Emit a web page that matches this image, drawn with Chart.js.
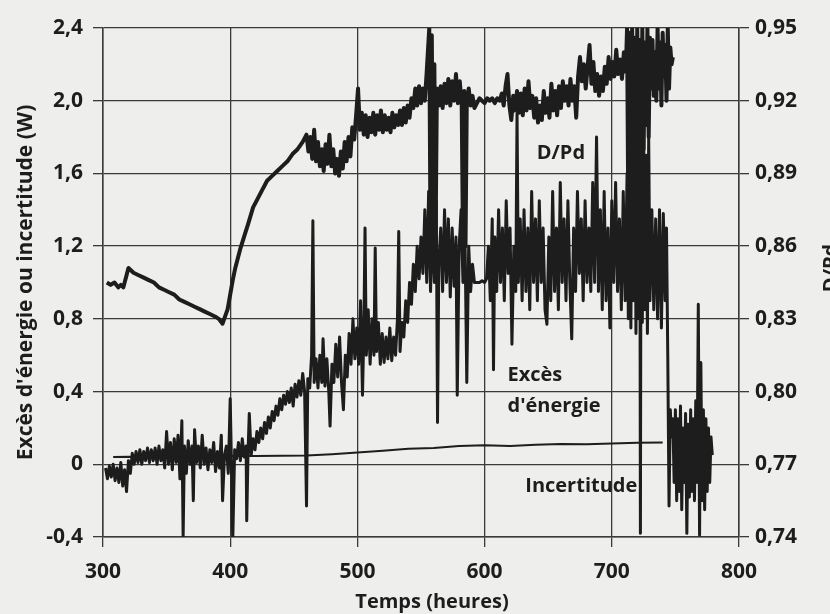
<!DOCTYPE html>
<html lang="fr">
<head>
<meta charset="utf-8">
<title>Excès d'énergie et D/Pd</title>
<script src="https://cdn.jsdelivr.net/npm/chart.js@4.4.1/dist/chart.umd.min.js"></script>
<style>
  html, body { margin: 0; padding: 0; background: #eeeeec; }
  #wrap { width: 830px; height: 614px; }
</style>
</head>
<body>
<div id="wrap"><canvas id="chart" width="830" height="614"></canvas></div>
<script>
// Axis ticks
const hourTicks = [300, 400, 500, 600, 700, 800];
const energyTicks = [-0.4, 0, 0.4, 0.8, 1.2, 1.6, 2.0, 2.4];
const ratioTicks = [0.74, 0.77, 0.80, 0.83, 0.86, 0.89, 0.92, 0.95];

// Excès d'énergie (W)
const excessHours = [
  302, 303.5, 305, 306.5, 308, 309.5, 311, 312.5, 314, 315.5,
  317, 318.5, 320, 321.5, 323, 324.5, 326, 327.5, 329, 330.5,
  332, 333.5, 335, 336.5, 338, 339.5, 341, 342.5, 344, 345.5,
  347, 348.5, 350, 351.5, 353, 354.5, 356, 357.5, 359, 360.5,
  362, 363, 364, 365.5, 367, 368.5, 370, 371, 372, 373.5,
  375, 376.5, 378, 379.5, 381, 382.5, 384, 385.5, 387, 388.5,
  390, 391.5, 393, 394, 395.5, 397, 398.5, 400, 401, 402,
  403.5, 405, 406.5, 408, 409.5, 411, 412.5, 413, 414, 415,
  416.5, 418, 419.5, 421, 422.5, 424, 425.5, 427, 428.5, 430,
  431.5, 433, 434.5, 436, 437.5, 439, 440.5, 442, 443.5, 445,
  446.5, 448, 449.5, 451, 452.5, 454, 455.5, 457, 458.5, 460,
  461, 462.5, 464, 465, 466, 467.5, 469, 470.5, 472, 473,
  474.5, 476, 477.5, 478.5, 480, 481.5, 483, 484.5, 486, 487.5,
  489, 490.5, 492, 493.5, 495, 496.5, 498, 499.5, 501, 502.5,
  504, 505, 506, 507, 508.5, 510, 511.5, 513, 514, 515,
  516.5, 518, 519.5, 521, 522.5, 524, 525.5, 527, 528.5, 530,
  531.5, 532.5, 533.5, 535, 536.5, 538, 539.5, 541, 542.5, 544,
  545.5, 547, 548.5, 550, 551.5, 553, 554.5, 556, 557.5, 559,
  560.5, 562, 563, 564, 565.5, 567, 568.5, 570, 571.5, 573,
  574.5, 576, 577.5, 578.5, 580, 581.5, 583, 584.5, 586, 587.5,
  589, 590.5, 592, 594, 596, 598, 600, 601.5, 603, 604.5,
  606, 607, 608, 609.5, 611, 612.5, 614, 615.5, 617, 618.5,
  620, 621.5, 623, 624.5, 625.5, 626.5, 628, 629.5, 631, 632.5,
  634, 635.5, 637, 638.5, 640, 641.5, 643, 644.5, 646, 647.5,
  649, 650.5, 652, 653.5, 655, 656.5, 658, 659.5, 661, 662.5,
  664, 665.5, 667, 668.5, 670, 671.5, 673, 674.5, 676, 677.5,
  679, 680.5, 682, 683.5, 685, 686.5, 688, 689.5, 691, 692.5,
  694, 695.5, 697, 698.5, 700, 701.5, 703, 704.5, 706, 707.5,
  709, 710.5, 712, 713, 714, 715, 716, 717, 718, 719,
  720, 721, 722, 722.5, 723, 724, 725, 726, 727, 728,
  729, 730, 731.5, 733, 734.5, 736, 737.5, 739, 740.5, 742,
  743, 744, 745, 746, 747, 748, 749, 750, 751, 752,
  753, 754, 755, 756, 757, 758, 759, 760, 761, 762,
  763, 764, 765, 766, 767, 768, 769, 770, 771, 772,
  773, 774, 775, 776, 777, 778, 779
];
const excessValues = [
  -0.02, -0.08, -0.01, -0.07, 0.0, -0.09, -0.02, -0.1, 0.01, -0.12,
  -0.03, -0.15, 0.02, -0.05, 0.06, 0.0, 0.07, 0.01, 0.08, 0.0,
  0.07, 0.02, 0.09, 0.01, 0.08, 0.02, 0.09, 0.0, 0.1, 0.02,
  0.08, -0.02, 0.18, 0.0, 0.12, -0.03, 0.14, 0.01, 0.16, -0.08,
  0.24, -0.4, 0.1, -0.05, 0.13, 0.0, 0.1, -0.2, 0.19, 0.01,
  0.1, -0.02, 0.16, 0.0, 0.09, -0.03, 0.08, 0.01, 0.12, -0.04,
  0.07, -0.02, 0.16, -0.2, 0.05, 0.1, -0.05, 0.36, 0.0, -0.42,
  0.08, 0.03, 0.12, 0.02, 0.14, 0.04, 0.1, -0.31, 0.06, 0.28,
  0.05, 0.14, 0.08, 0.18, 0.12, 0.2, 0.14, 0.23, 0.17, 0.26,
  0.2, 0.29, 0.24, 0.32, 0.27, 0.36, 0.3, 0.38, 0.33, 0.4,
  0.34, 0.42, 0.32, 0.44, 0.37, 0.46, 0.38, 0.5, 0.4, -0.23,
  0.47, 0.42, 0.6, 1.34, 0.45, 0.58, 0.42, 0.6, 0.45, 0.69,
  0.43, 0.58, 0.4, 0.21, 0.55, 0.45, 0.66, 0.48, 0.7, 0.45,
  0.3, 0.6, 0.48, 0.72, 0.55, 0.8, 0.58, 0.75, 0.55, 0.9,
  0.38, 0.7, 1.3, 0.6, 0.85, 0.55, 0.8, 0.6, 1.19, 0.62,
  0.78, 0.55, 0.72, 0.56, 0.7, 0.58, 0.75, 0.57, 0.7, 0.6,
  0.8, 1.28, 0.62, 0.78, 0.7, 0.9, 0.78, 1.0, 0.88, 1.1,
  0.95, 1.2, 1.02, 1.25, 1.05, 1.4, 1.0, 1.5, 0.95, 1.35,
  1.0, 1.45, 0.23, 1.1, 1.3, 0.95, 1.4, 1.0, 1.35, 0.92,
  1.3, 0.98, 1.25, 0.38, 1.2, 1.4, 1.0, 1.3, 0.45, 1.2,
  0.95, 1.1, 1.0, 1.0, 1.0, 1.01, 1.0, 1.02, 1.2, 0.9,
  1.35, 0.52, 1.25, 0.95, 1.4, 1.0, 1.3, 0.9, 1.45, 1.05,
  1.3, 0.66, 1.2, 0.95, 1.93, 1.0, 1.35, 0.9, 1.4, 0.95,
  1.3, 0.85, 1.5, 1.0, 1.35, 0.9, 1.45, 1.0, 1.3, 0.85,
  0.77, 1.25, 0.9, 1.5, 0.95, 1.3, 0.85, 1.55, 1.0, 1.35,
  0.9, 1.45, 1.0, 0.69, 1.3, 0.95, 1.5, 1.05, 1.35, 0.9,
  1.45, 1.0, 1.3, 0.95, 1.55, 1.0, 1.8, 0.95, 1.4, 0.85,
  1.5, 0.9, 1.3, 0.75, 1.45, 1.0, 1.55, 0.95, 1.35, 0.85,
  1.5, 0.9, 1.6, 0.8, 1.95, 0.75, 1.9, 0.9, 1.95, 0.72,
  1.85, 0.8, 1.9, -0.38, 1.8, 0.78, 1.9, 0.85, 1.7, 0.72,
  1.8, 0.9, 1.4, 0.85, 1.35, 0.8, 1.4, 0.75, 1.38, 0.9,
  1.3, 0.6, -0.23, 0.3, 0.15, 0.25, -0.1, 0.3, -0.2, 0.25,
  -0.15, 0.32, -0.25, 0.2, -0.1, 0.28, -0.38, 0.22, -0.18, 0.3,
  -0.15, 0.25, -0.2, 0.35, -0.1, 0.88, -0.39, 0.56, -0.2, 0.3,
  -0.25, 0.25, -0.15, 0.2, -0.1, 0.15, 0.05
];

// D/Pd (right axis)
const ratioHours = [
  303, 306, 309, 312, 314, 316, 318, 320, 324, 328,
  332, 336, 340, 344, 348, 352, 356, 360, 364, 368,
  372, 376, 380, 384, 388, 391, 394, 396, 398, 400,
  402, 404, 406, 408, 411, 414, 418, 421, 425, 429,
  433, 437, 441, 445, 449, 453, 457, 460, 461.5, 463,
  464.5, 466, 467.5, 469, 470.5, 472, 473.5, 475, 476.5, 478,
  479.5, 481, 482.5, 484, 485.5, 487, 488.5, 490, 491.5, 493,
  494.5, 496, 497.5, 499, 500.5, 502, 503.5, 505, 506.5, 508,
  509.5, 511, 512.5, 514, 515.5, 517, 518.5, 520, 521.5, 523,
  524.5, 526, 527.5, 529, 530.5, 532, 533.5, 535, 536.5, 538,
  539.5, 541, 542.5, 544, 545.5, 547, 548.5, 550, 551.5, 553,
  554.5, 556.5, 557.5, 558.5, 559.5, 560.5, 561.5, 562.5, 564, 565.5,
  567, 568.5, 570, 571.5, 573, 574.5, 576, 577.5, 579, 580.5,
  582, 583, 584, 585, 586, 587.5, 589, 590.5, 592, 594,
  596, 598, 600, 602, 604, 606, 608, 610, 612, 613.5,
  615, 616.5, 618, 619.5, 621, 622.5, 624, 625.5, 627, 628.5,
  630, 631.5, 633, 634.5, 636, 637.5, 639, 640.5, 642, 643.5,
  645, 646.5, 648, 649.5, 651, 652.5, 654, 655.5, 657, 658.5,
  660, 661.5, 663, 664.5, 666, 667.5, 669, 670.5, 672, 673.5,
  675, 676.5, 678, 679.5, 681, 682.5, 684, 685.5, 687, 688.5,
  690, 691.5, 693, 694.5, 696, 697.5, 699, 700.5, 702, 703.5,
  705, 706.5, 708, 709.5, 711, 712, 713, 714, 715, 716,
  717, 718, 719, 720, 721, 722, 723, 724, 725, 726,
  727, 728, 729, 730, 731, 732, 733, 734, 735, 736,
  737, 738, 739, 740, 741, 742, 743, 744, 745, 746,
  747, 748
];
const ratioValues = [
  0.845, 0.844, 0.845, 0.843, 0.844, 0.843, 0.847, 0.851, 0.849, 0.848,
  0.847, 0.846, 0.845, 0.843, 0.842, 0.841, 0.840, 0.838, 0.837, 0.836,
  0.835, 0.834, 0.833, 0.832, 0.831, 0.830, 0.828, 0.831, 0.834, 0.840,
  0.846, 0.851, 0.855, 0.859, 0.864, 0.869, 0.876, 0.879, 0.883, 0.887,
  0.889, 0.891, 0.893, 0.895, 0.898, 0.900, 0.903, 0.906, 0.899, 0.905,
  0.896, 0.908, 0.895, 0.903, 0.893, 0.900, 0.891, 0.902, 0.894, 0.906,
  0.893, 0.900, 0.890, 0.896, 0.889, 0.899, 0.892, 0.903, 0.895, 0.905,
  0.897, 0.909, 0.904, 0.914, 0.925, 0.908, 0.915, 0.906, 0.914, 0.905,
  0.913, 0.907, 0.915, 0.906, 0.914, 0.908, 0.916, 0.907, 0.914, 0.908,
  0.913, 0.907, 0.915, 0.909, 0.914, 0.910, 0.916, 0.910, 0.917, 0.911,
  0.918, 0.913, 0.921, 0.917, 0.925, 0.918, 0.926, 0.919, 0.925, 0.920,
  0.932, 0.950, 0.862, 0.947, 0.860, 0.935, 0.865, 0.925, 0.918, 0.926,
  0.917, 0.927, 0.919, 0.929, 0.918, 0.928, 0.920, 0.931, 0.919, 0.928,
  0.918, 0.862, 0.924, 0.860, 0.920, 0.925, 0.918, 0.922, 0.917, 0.919,
  0.921, 0.920, 0.919, 0.921, 0.920, 0.921, 0.919, 0.921, 0.920, 0.923,
  0.918, 0.926, 0.931, 0.918, 0.912, 0.922, 0.916, 0.924, 0.915, 0.923,
  0.914, 0.925, 0.916, 0.928, 0.917, 0.922, 0.913, 0.921, 0.911, 0.918,
  0.912, 0.924, 0.915, 0.921, 0.913, 0.927, 0.916, 0.924, 0.914, 0.926,
  0.917, 0.928, 0.920, 0.926, 0.918, 0.929, 0.920, 0.926, 0.913, 0.930,
  0.938, 0.928, 0.935, 0.925, 0.934, 0.943, 0.927, 0.936, 0.924, 0.931,
  0.922, 0.930, 0.924, 0.934, 0.927, 0.938, 0.929, 0.936, 0.930, 0.941,
  0.931, 0.937, 0.929, 0.940, 0.932, 0.950, 0.870, 0.948, 0.865, 0.950,
  0.875, 0.946, 0.868, 0.950, 0.900, 0.945, 0.880, 0.950, 0.900, 0.944,
  0.910, 0.950, 0.905, 0.946, 0.925, 0.945, 0.922, 0.940, 0.920, 0.950,
  0.925, 0.944, 0.918, 0.948, 0.930, 0.943, 0.920, 0.950, 0.925, 0.942,
  0.935, 0.938
];

// Incertitude (W)
const uncertaintyHours = [308, 320, 340, 360, 380, 400, 420, 440, 460, 480, 500, 520, 540, 560, 580, 600, 620, 640, 660, 680, 700, 720, 740];
const uncertaintyValues = [0.04, 0.042, 0.04, 0.043, 0.042, 0.045, 0.046, 0.047, 0.048, 0.055, 0.065, 0.075, 0.085, 0.09, 0.1, 0.105, 0.1, 0.108, 0.112, 0.11, 0.115, 0.118, 0.12];

// In-plot labels (hour, W)
const seriesLabels = [
  { text: 'D/Pd', hour: 660, value: 1.71, align: 'center' },
  { text: 'Excès', hour: 618, value: 0.49, align: 'left' },
  { text: "d'énergie", hour: 618, value: 0.32, align: 'left' },
  { text: 'Incertitude', hour: 676, value: -0.12, align: 'center' }
];

const ink = '#1d1d1d';
const gridInk = '#3a3a3a';
const fontFamily = '"Open Sans", "DejaVu Sans", sans-serif';

function toPoints(xs, ys) {
    return xs.map((h, i) => ({ x: h, y: ys[i] }));
}

function commaNumber(v, digits) {
    if (v === 0) return '0';
    return v.toFixed(digits).replace('.', ',');
}

const paperPlugin = {
    id: 'paper',
    beforeDraw(chart) {
        const ctx = chart.ctx;
        ctx.save();
        ctx.fillStyle = '#eeeeec';
        ctx.fillRect(0, 0, chart.width, chart.height);
        ctx.restore();
    }
};

const textPlugin = {
    id: 'seriesText',
    afterDatasetsDraw(chart) {
        const ctx = chart.ctx;
        const x = chart.scales.x;
        const y = chart.scales.y;
        ctx.save();
        ctx.fillStyle = ink;
        ctx.font = 'bold 20px ' + fontFamily;
        ctx.textBaseline = 'middle';
        seriesLabels.forEach(function(l) {
            ctx.textAlign = l.align;
            ctx.fillText(l.text, x.getPixelForValue(l.hour), y.getPixelForValue(l.value));
        });
        // x title sits a little right of centre in the original
        ctx.textAlign = 'center';
        ctx.fillText('Temps (heures)', 432, 602);
        // right axis title, reading upward
        ctx.translate(831, 268);
        ctx.rotate(-Math.PI / 2);
        ctx.fillText('D/Pd', 0, 0);
        ctx.restore();
    }
};

const ctx = document.getElementById('chart').getContext('2d');
const chart = new Chart(ctx, {
    type: 'line',
    data: {
        datasets: [
            {
                label: 'Incertitude',
                data: toPoints(uncertaintyHours, uncertaintyValues),
                borderColor: ink,
                borderWidth: 2,
                yAxisID: 'y'
            },
            {
                label: "Excès d'énergie",
                data: toPoints(excessHours, excessValues),
                borderColor: ink,
                borderWidth: 3,
                yAxisID: 'y'
            },
            {
                label: 'D/Pd',
                data: toPoints(ratioHours, ratioValues),
                borderColor: ink,
                borderWidth: 4,
                yAxisID: 'y1'
            }
        ]
    },
    options: {
        responsive: false,
        animation: false,
        events: [],
        elements: {
            point: { radius: 0 },
            line: { tension: 0, borderJoinStyle: 'round' }
        },
        layout: { padding: { top: 28, left: 0, right: 0, bottom: 0 } },
        plugins: {
            legend: { display: false },
            tooltip: { enabled: false }
        },
        scales: {
            x: {
                type: 'linear',
                min: 300,
                max: 800,
                afterBuildTicks: function(scale) {
                    scale.ticks = hourTicks.map(v => ({ value: v }));
                },
                afterFit: function(scale) { scale.height = 77; },
                grid: { color: gridInk, lineWidth: 1.3, tickColor: gridInk, tickLength: 10 },
                border: { color: gridInk, width: 1.5 },
                ticks: {
                    color: ink,
                    padding: 12,
                    maxRotation: 0,
                    font: { family: fontFamily, size: 21, weight: 'bold' },
                    callback: v => String(v)
                }
            },
            y: {
                position: 'left',
                min: -0.4,
                max: 2.4,
                afterBuildTicks: function(scale) {
                    scale.ticks = energyTicks.map(v => ({ value: v }));
                },
                afterFit: function(scale) { scale.width = 103; },
                grid: { color: gridInk, lineWidth: 1.3, tickColor: gridInk, tickLength: 10 },
                border: { color: gridInk, width: 1.5 },
                ticks: {
                    color: ink,
                    padding: 10,
                    font: { family: fontFamily, size: 21, weight: 'bold' },
                    callback: v => commaNumber(v, 1)
                },
                title: {
                    display: true,
                    text: "Excès d'énergie ou incertitude (W)",
                    color: ink,
                    padding: { top: 13, bottom: 0 },
                    font: { family: fontFamily, size: 21, weight: 'bold' }
                }
            },
            y1: {
                position: 'right',
                min: 0.74,
                max: 0.95,
                afterBuildTicks: function(scale) {
                    scale.ticks = ratioTicks.map(v => ({ value: v }));
                },
                afterFit: function(scale) { scale.width = 91; },
                grid: { drawOnChartArea: false, color: gridInk, lineWidth: 1.3, tickColor: gridInk, tickLength: 10 },
                border: { color: gridInk, width: 1.5 },
                ticks: {
                    color: ink,
                    padding: 6,
                    font: { family: fontFamily, size: 21, weight: 'bold' },
                    callback: v => commaNumber(v, 2)
                }
            }
        }
    },
    plugins: [paperPlugin, textPlugin]
});
</script>
</body>
</html>
